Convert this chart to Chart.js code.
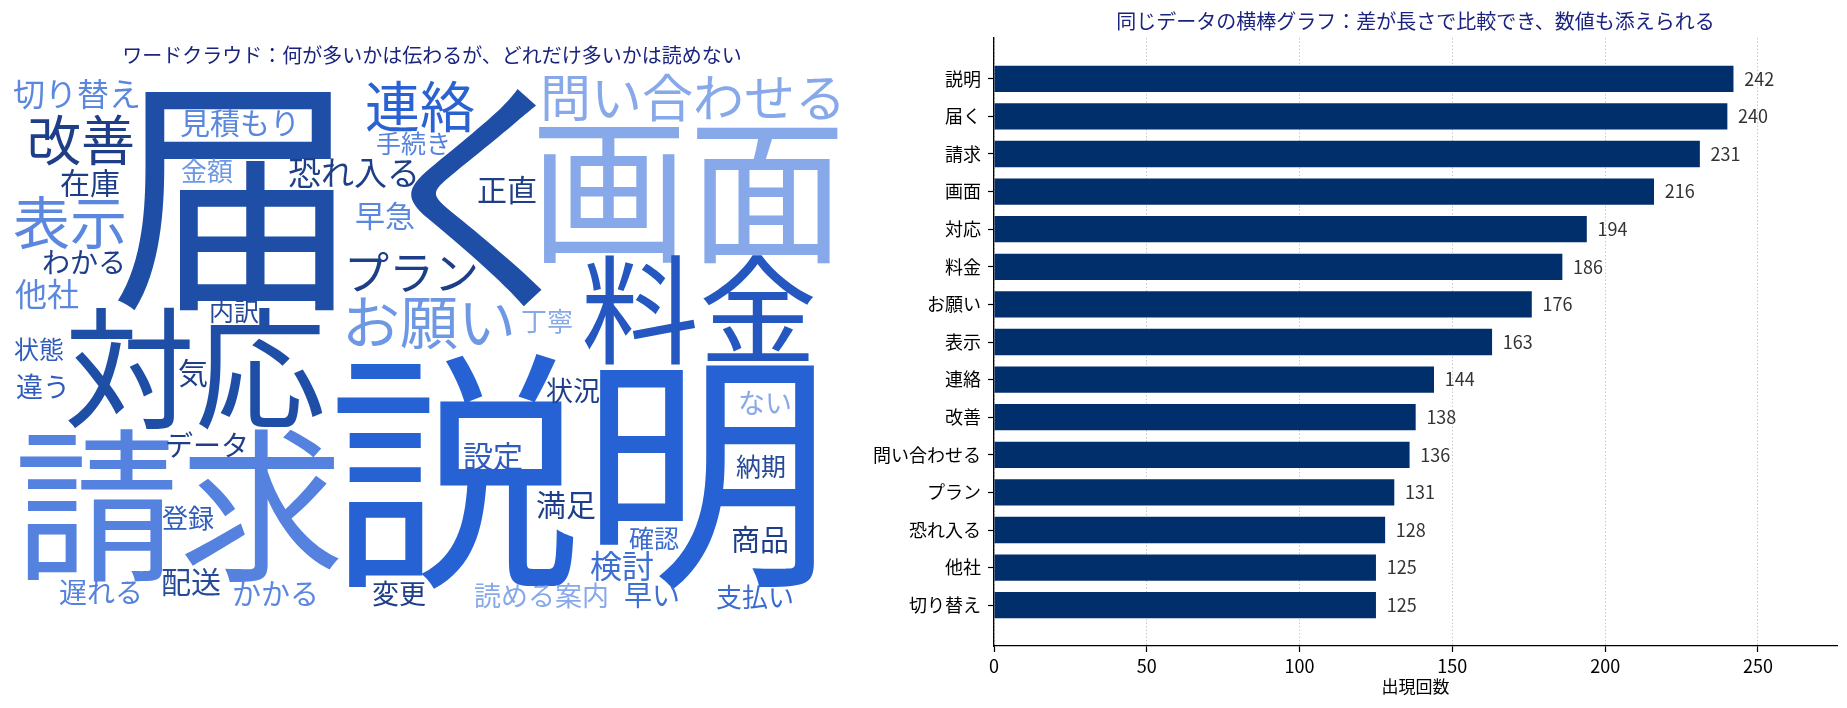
<!DOCTYPE html>
<html lang="ja">
<head>
<meta charset="utf-8">
<title>ワードクラウドと横棒グラフ</title>
<script src="https://cdn.jsdelivr.net/npm/chart.js@4.4.1/dist/chart.umd.min.js"></script>
<style>
    html, body { margin: 0; padding: 0; background: #ffffff; }
    #cloudChart { position: absolute; left: 0; top: 0; }
    #barChart { position: absolute; left: 864px; top: 0; }
</style>
</head>
<body>
<canvas id="cloudChart" width="864" height="708"></canvas>
<canvas id="barChart" width="983" height="708"></canvas>
<script>
/* ==========================================
   WORD CLOUD vs BAR CHART
   ========================================== */

// ===== DATA: bar chart =====
const categories = ['説明', '届く', '請求', '画面', '対応', '料金', 'お願い', '表示', '連絡', '改善', '問い合わせる', 'プラン', '恐れ入る', '他社', '切り替え'];
const counts = [242, 240, 231, 216, 194, 186, 176, 163, 144, 138, 136, 131, 128, 125, 125];
const xTicks = [0, 50, 100, 150, 200, 250];

// ===== DATA: word cloud words =====
const cloudWords = ['説明', '届く', '画面', '請求', '対応', '料金', 'お願い', '表示', '連絡', '改善', '問い合わせる',
    'プラン', '恐れ入る', '他社', '切り替え', '見積もり', '在庫', '金額', '手続き', '早急', 'わかる', '内訳', '丁寧',
    '状態', '正直', '違う', '気', 'データ', '登録', '遅れる', '配送', 'かかる', '変更', '状況', '設定', 'ない', '納期',
    '満足', '確認', '商品', '検討', '読める案内', '早い', '支払い'];

// ===== LAYOUT of the cloud (left edge / middle, in cloud image units) =====
const cloudX = [328, 110, 530, 14, 64, 581, 342, 13, 365, 27, 540,
    344, 288, 15, 13, 180, 60, 181, 376, 355, 42, 209, 521,
    14, 477, 16, 178, 165, 162, 59, 161, 232, 372, 546, 463, 738, 736,
    536, 629, 731, 590, 474, 624, 716];
const cloudY = [401, 125, 120, 435, 298, 240, 252, 152, 36, 70, 28,
    203, 102, 224, 24, 53, 113, 101, 73, 146, 192, 241, 251,
    279, 120, 317, 303, 375, 448, 522, 512, 524, 524, 321, 386, 333, 396,
    435, 468, 470, 496, 526, 525, 527];
const cloudSize = [252, 250, 158, 165, 131, 118, 58, 57, 55, 54, 51,
    45, 33, 32, 32, 30, 30, 26, 25, 30, 28, 25, 26,
    25, 30, 27, 30, 28, 26, 28, 30, 29, 27, 27, 30, 27, 25,
    30, 25, 29, 32, 27, 28, 26];
const cloudColor = ['#2662d4', '#1f4ea6', '#88a9e9', '#5482de', '#1f4ea6', '#2458c0', '#6f98e4', '#5b88de', '#2a62d2', '#1e3f88', '#88a9e9',
    '#1e3f88', '#1e3f88', '#5b88de', '#5b88de', '#5b88de', '#1e3f88', '#6f98e4', '#5482de', '#5b88de', '#1e3f88', '#274a98', '#88a9e9',
    '#2f5cbd', '#1e3f88', '#2f5cbd', '#1e3f88', '#1e3f88', '#2f5cbd', '#5482de', '#274a98', '#5b88de', '#1e3f88', '#1e3f88', '#2f5cbd', '#88a9e9', '#274a98',
    '#1e3f88', '#3a6bd0', '#1e3f88', '#3d6fd4', '#88a9e9', '#3d6fd4', '#3a6bd0'];

const FONT = "'Noto Sans CJK JP', 'Noto Sans', sans-serif";
const TITLE_COLOR = '#1a237e';
const BAR_COLOR = '#002f6c';

Chart.defaults.font.family = FONT;
Chart.defaults.color = '#000';

// ===== WORD CLOUD PLUGIN =====
// draws each word at its point, through the chart's own scales
const cloudText = {
    id: 'cloudText',
    afterDatasetsDraw(chart) {
        const { ctx, scales: { x, y } } = chart;
        const points = chart.data.datasets[0].data;
        ctx.save();
        ctx.textAlign = 'left';
        ctx.textBaseline = 'middle';
        points.forEach((p, i) => {
            ctx.font = `${cloudSize[i]}px ${FONT}`;
            ctx.fillStyle = cloudColor[i];
            ctx.fillText(cloudWords[i], x.getPixelForValue(p.x), y.getPixelForValue(p.y));
        });
        ctx.restore();
    }
};

// ===== VALUE LABELS PLUGIN =====
const valueLabels = {
    id: 'valueLabels',
    afterDatasetsDraw(chart) {
        const { ctx, scales: { x } } = chart;
        const meta = chart.getDatasetMeta(0);
        ctx.save();
        ctx.font = `18px ${FONT}`;
        ctx.fillStyle = '#333333';
        ctx.textAlign = 'left';
        ctx.textBaseline = 'middle';
        meta.data.forEach((bar, i) => {
            ctx.fillText(String(counts[i]), x.getPixelForValue(counts[i] + 3.5), bar.y);
        });
        ctx.restore();
    }
};

// ===== TITLE OVER PLOT AREA =====
// the title box normally spans the whole canvas; centre it on the axes instead
const centerTitle = {
    id: 'centerTitle',
    afterLayout(chart) {
        const t = chart.titleBlock;
        if (t) {
            t.left = chart.chartArea.left;
            t.right = chart.chartArea.right;
        }
    }
};

// ===== WORD CLOUD CHART =====
function initCloudChart() {
    new Chart(document.getElementById('cloudChart'), {
        type: 'scatter',
        data: {
            datasets: [{
                data: cloudWords.map((w, i) => ({ x: cloudX[i], y: cloudY[i] })),
                pointRadius: 0,
                pointHoverRadius: 0
            }]
        },
        options: {
            responsive: false,
            animation: false,
            events: [],
            layout: { padding: { left: 0, right: 0, top: 0, bottom: 78 } },
            plugins: {
                legend: { display: false },
                tooltip: { enabled: false },
                title: {
                    display: true,
                    text: 'ワードクラウド：何が多いかは伝わるが、どれだけ多いかは読めない',
                    color: TITLE_COLOR,
                    font: { size: 20, weight: 'normal' },
                    padding: { top: 43, bottom: 3 }
                }
            },
            scales: {
                x: { type: 'linear', display: false, min: 0, max: 864 },
                y: { type: 'linear', display: false, min: 0, max: 560, reverse: true }
            }
        },
        plugins: [cloudText]
    });
}

// ===== BAR CHART =====
function initBarChart() {
    new Chart(document.getElementById('barChart'), {
        type: 'bar',
        data: {
            datasets: [{
                data: counts.map((v, i) => ({ x: v, y: i })),
                backgroundColor: BAR_COLOR,
                borderWidth: 0,
                barPercentage: 0.7,
                categoryPercentage: 1.0
            }]
        },
        options: {
            indexAxis: 'y',
            responsive: false,
            animation: false,
            events: [],
            layout: { padding: { left: 0, right: 10, top: 0, bottom: 0 } },
            plugins: {
                legend: { display: false },
                tooltip: { enabled: false },
                title: {
                    display: true,
                    text: '同じデータの横棒グラフ：差が長さで比較でき、数値も添えられる',
                    color: TITLE_COLOR,
                    font: { size: 20, weight: 'normal' },
                    padding: { top: 9, bottom: 5 }
                }
            },
            scales: {
                x: {
                    type: 'linear',
                    min: 0,
                    max: Math.max(...counts) * 1.14,
                    afterBuildTicks: (s) => { s.ticks = xTicks.map(v => ({ value: v })); },
                    afterFit: (s) => { s.height = 62; },
                    ticks: { color: '#000', font: { size: 18 }, padding: 3 },
                    grid: {
                        color: '#c8c8c8',
                        lineWidth: 1,
                        tickColor: '#000',
                        tickLength: 6,
                        tickWidth: 1.2,
                        tickBorderDash: []
                    },
                    border: { display: true, color: '#000', width: 1.3, dash: [1.5, 2] },
                    title: {
                        display: true,
                        text: '出現回数',
                        color: '#000',
                        font: { size: 17 },
                        padding: { top: 0, bottom: 11 }
                    }
                },
                y: {
                    type: 'linear',
                    offset: false,
                    min: -1.085,
                    max: categories.length - 1 + 1.085,
                    reverse: true,
                    afterBuildTicks: (s) => { s.ticks = categories.map((c, i) => ({ value: i })); },
                    afterFit: (s) => { s.width = 130; },
                    ticks: {
                        color: '#000',
                        font: { size: 18 },
                        padding: 7,
                        callback: (v) => categories[v]
                    },
                    grid: {
                        display: true,
                        offset: false,
                        drawOnChartArea: false,
                        drawTicks: true,
                        tickColor: '#000',
                        tickLength: 6,
                        tickWidth: 1.2
                    },
                    border: { display: true, color: '#000', width: 1.3 }
                }
            }
        },
        plugins: [valueLabels, centerTitle]
    });
}

// ===== INITIALIZE =====
initCloudChart();
initBarChart();
</script>
</body>
</html>
